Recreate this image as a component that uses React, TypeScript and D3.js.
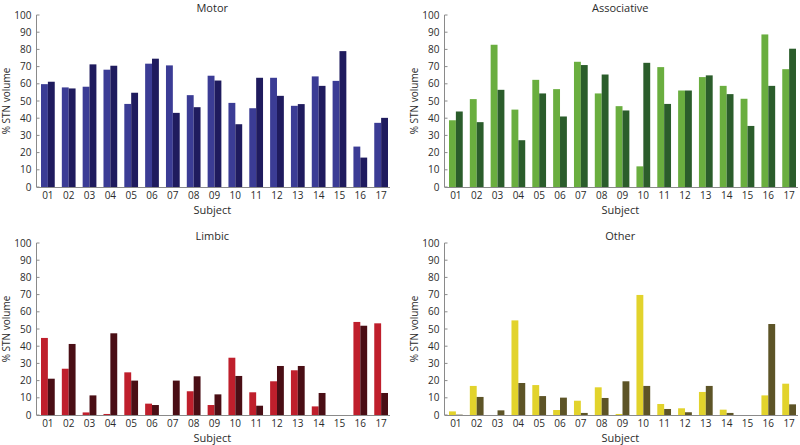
import * as d3 from 'd3';

const subjects = ['01', '02', '03', '04', '05', '06', '07', '08', '09', '10', '11', '12', '13', '14', '15', '16', '17'];
const yTicks = [0, 10, 20, 30, 40, 50, 60, 70, 80, 90, 100];

const motorA = [59.8, 57.9, 58.3, 68.2, 48.3, 71.7, 70.7, 53.4, 64.7, 48.9, 45.8, 63.5, 47.2, 64.3, 61.7, 23.5, 37.3];
const motorB = [61.2, 57.3, 71.3, 70.5, 54.8, 74.6, 43.1, 46.4, 61.9, 36.5, 63.5, 53.0, 48.2, 58.8, 79.0, 17.1, 40.2];

const assocA = [38.8, 51.1, 82.7, 45.0, 62.3, 56.9, 72.8, 54.4, 47.0, 12.0, 69.7, 56.1, 63.9, 58.8, 51.3, 88.7, 68.5];
const assocB = [43.9, 37.7, 56.5, 27.2, 54.4, 41.0, 70.9, 65.4, 44.5, 72.2, 48.3, 56.1, 64.9, 54.0, 35.5, 58.8, 80.4];

const limbicA = [44.8, 26.9, 1.5, 0.6, 24.8, 6.6, 0, 13.8, 5.8, 33.3, 13.2, 19.6, 26.0, 5.0, 0, 54.1, 53.3];
const limbicB = [21.1, 41.3, 11.4, 47.5, 20.0, 5.8, 20.0, 22.5, 12.0, 22.7, 5.4, 28.5, 28.5, 12.8, 0, 51.9, 12.8];

const otherA = [2.1, 16.9, 0, 55.0, 17.4, 2.9, 8.3, 16.1, 0.6, 69.8, 6.4, 3.9, 13.4, 3.1, 0, 11.4, 18.2];
const otherB = [0.2, 10.5, 2.7, 18.6, 11.0, 10.1, 1.2, 9.9, 19.6, 16.9, 3.5, 1.6, 16.9, 1.2, 0, 52.9, 6.2];

const FONT = '"Open Sans", "DejaVu Sans", sans-serif';
const TEXT = '#2b2b2b';
const AXIS = '#8a8a8a';

type PanelProps = {
  title: string;
  a: number[];
  b: number[];
  colorA: string;
  colorB: string;
  left: number;
  top: number;
};

const Panel = ({ title, a, b, colorA, colorB, left, top }: PanelProps) => {
  const x0 = left;
  const x1 = left + 347;
  const axisX = left - 4.5;
  const y = d3.scaleLinear().domain([0, 100]).range([top + 172, top]);
  const x = d3.scaleBand<string>().domain(subjects).range([x0, x1]).paddingInner(0.34).paddingOuter(0);
  const inner = d3.scaleBand<string>().domain(['a', 'b']).range([0, x.bandwidth()]);
  const base = y(0);

  return (
    <g>
      <text x={(axisX + x1) / 2} y={top - 3} textAnchor="middle" fontSize={11} fill={TEXT}>{title}</text>
      {subjects.map((s, i) => (
        <g key={s}>
          <rect x={x(s)! + inner('a')!} y={y(a[i])} width={inner.bandwidth()} height={base - y(a[i])} fill={colorA} />
          <rect x={x(s)! + inner('b')!} y={y(b[i])} width={inner.bandwidth()} height={base - y(b[i])} fill={colorB} />
          <text x={x(s)! + x.bandwidth() / 2} y={base + 12} textAnchor="middle" fontSize={10} fill={TEXT}>{s}</text>
        </g>
      ))}
      <line x1={axisX} x2={x1 + 2} y1={base + 0.5} y2={base + 0.5} stroke={AXIS} strokeWidth={1} />
      <line x1={axisX} x2={axisX} y1={y(100)} y2={base} stroke={AXIS} strokeWidth={1} />
      {yTicks.map(t => (
        <g key={t}>
          <line x1={axisX} x2={axisX + 3} y1={y(t)} y2={y(t)} stroke={AXIS} strokeWidth={1} />
          <text x={axisX - 5} y={y(t) + 3.5} textAnchor="end" fontSize={10} fill={TEXT}>{t}</text>
        </g>
      ))}
      <text x={(axisX + x1) / 2} y={base + 27} textAnchor="middle" fontSize={11} fill={TEXT}>Subject</text>
      <text transform={`translate(${left - 31},${y(50)}) rotate(-90)`} textAnchor="middle" fontSize={10} fill={TEXT}>% STN volume</text>
    </g>
  );
};

export default function App() {
  return (
    <svg width={800} height={445} style={{ position: 'absolute', left: 0, top: 0, background: '#fff' }} fontFamily={FONT}>
      <Panel title="Motor" a={motorA} b={motorB} colorA="#3b3c95" colorB="#1f1b5e" left={41} top={15} />
      <Panel title="Associative" a={assocA} b={assocB} colorA="#6aae3f" colorB="#2b5d2b" left={449} top={15} />
      <Panel title="Limbic" a={limbicA} b={limbicB} colorA="#bf1f2c" colorB="#4a0e15" left={41} top={243} />
      <Panel title="Other" a={otherA} b={otherB} colorA="#e2d32c" colorB="#5d5427" left={449} top={243} />
    </svg>
  );
}
